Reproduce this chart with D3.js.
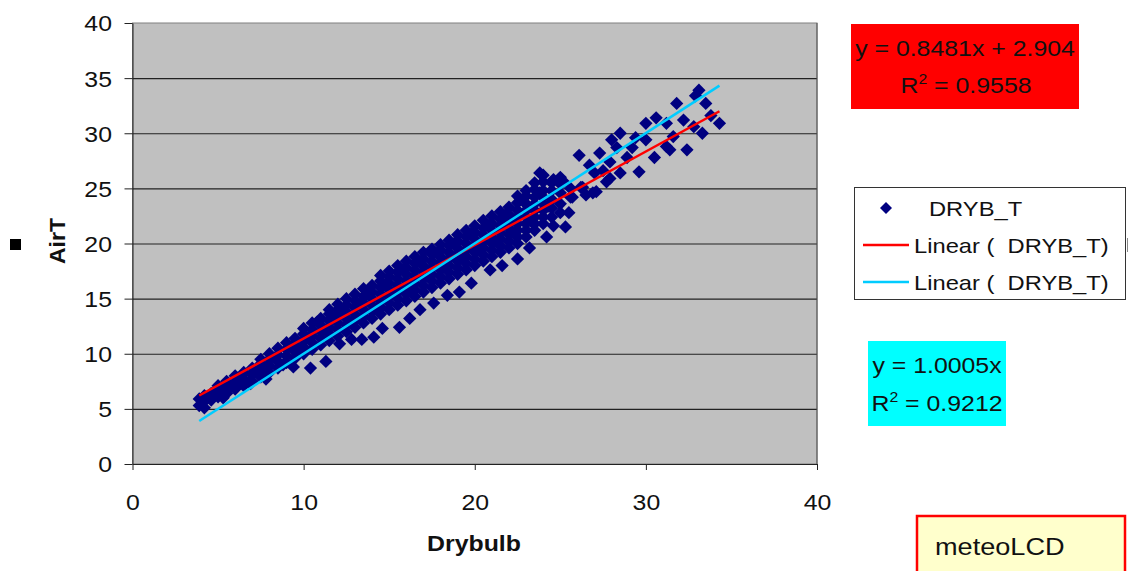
<!DOCTYPE html>
<html>
<head>
<meta charset="utf-8">
<script src="https://cdn.jsdelivr.net/npm/d3@7"></script>
<style>
  body { margin: 0; background: #fff; }
  text { font-family: "Liberation Sans", Arial, sans-serif; fill: #111; white-space: pre; }
</style>
</head>
<body>
<svg id="chart" width="1129" height="571"></svg>
<script>
/* values: [Drybulb, AirT] */
var drybT = [
  [3.9,5.3],[3.9,5.9],[4.2,5.1],[4.2,5.7],[4.2,6.2],[4.6,5.8],[4.6,6.4],
  [5.0,6.1],[5.0,6.7],[5.0,7.1],[5.5,6.4],[5.5,7.0],[5.5,7.5],
  [6.0,6.8],[6.0,7.4],[6.0,8.0],[6.5,7.1],[6.5,7.7],[6.5,8.3],
  [7.0,7.5],[7.0,8.1],[7.0,8.7],[7.5,7.9],[7.5,8.5],[7.5,9.1],[7.5,9.5],
  [8.0,8.3],[8.0,8.9],[8.0,9.5],[8.0,10.0],[8.5,8.7],[8.5,9.3],[8.5,9.9],[8.5,10.5],
  [9.0,9.2],[9.0,9.8],[9.0,10.4],[9.0,11.0],[9.5,9.6],[9.5,10.2],[9.5,10.8],[9.5,11.4],
  [10.0,10.0],[10.0,10.6],[10.0,11.2],[10.0,11.8],[10.0,12.3],
  [10.5,10.4],[10.5,11.0],[10.5,11.6],[10.5,12.2],[10.5,12.8],
  [11.0,10.8],[11.0,11.4],[11.0,12.0],[11.0,12.6],[11.0,13.2],
  [11.5,11.2],[11.5,11.8],[11.5,12.4],[11.5,13.0],[11.5,13.6],[11.5,14.0],
  [12.0,11.6],[12.0,12.2],[12.0,12.8],[12.0,13.4],[12.0,14.0],[12.0,14.5],
  [12.5,12.0],[12.5,12.6],[12.5,13.2],[12.5,13.8],[12.5,14.4],[12.5,15.0],
  [13.0,12.4],[13.0,13.0],[13.0,13.6],[13.0,14.2],[13.0,14.8],[13.0,15.4],
  [13.5,12.8],[13.5,13.4],[13.5,14.0],[13.5,14.6],[13.5,15.2],[13.5,15.9],
  [14.0,13.2],[14.0,13.8],[14.0,14.4],[14.0,15.0],[14.0,15.6],[14.0,16.2],
  [14.5,13.6],[14.5,14.2],[14.5,14.8],[14.5,15.4],[14.5,16.0],[14.5,16.6],[14.5,17.1],
  [15.0,14.0],[15.0,14.6],[15.0,15.2],[15.0,15.8],[15.0,16.4],[15.0,17.0],[15.0,17.5],
  [15.5,14.4],[15.5,15.0],[15.5,15.6],[15.5,16.2],[15.5,16.8],[15.5,17.4],[15.5,18.0],
  [16.0,14.8],[16.0,15.4],[16.0,16.0],[16.0,16.6],[16.0,17.2],[16.0,17.8],[16.0,18.4],
  [16.5,15.2],[16.5,15.8],[16.5,16.4],[16.5,17.0],[16.5,17.6],[16.5,18.2],[16.5,18.8],
  [17.0,15.6],[17.0,16.2],[17.0,16.8],[17.0,17.4],[17.0,18.0],[17.0,18.6],[17.0,19.2],
  [17.5,16.0],[17.5,16.6],[17.5,17.2],[17.5,17.8],[17.5,18.4],[17.5,19.0],[17.5,19.5],
  [18.0,16.4],[18.0,17.0],[18.0,17.6],[18.0,18.2],[18.0,18.8],[18.0,19.4],[18.0,19.9],
  [18.5,16.8],[18.5,17.4],[18.5,18.0],[18.5,18.6],[18.5,19.2],[18.5,19.8],[18.5,20.3],
  [19.0,17.2],[19.0,17.8],[19.0,18.4],[19.0,19.0],[19.0,19.6],[19.0,20.2],[19.0,20.8],
  [19.5,17.6],[19.5,18.2],[19.5,18.8],[19.5,19.4],[19.5,20.0],[19.5,20.6],[19.5,21.2],
  [20.0,18.0],[20.0,18.6],[20.0,19.2],[20.0,19.8],[20.0,20.4],[20.0,21.0],[20.0,21.6],
  [20.5,18.4],[20.5,19.0],[20.5,19.6],[20.5,20.2],[20.5,20.8],[20.5,21.4],[20.5,22.1],
  [21.0,18.8],[21.0,19.4],[21.0,20.0],[21.0,20.6],[21.0,21.2],[21.0,21.8],[21.0,22.5],
  [21.5,19.2],[21.5,19.8],[21.5,20.4],[21.5,21.0],[21.5,21.6],[21.5,22.2],[21.5,22.9],
  [22.0,19.6],[22.0,20.2],[22.0,20.8],[22.0,21.4],[22.0,22.0],[22.0,22.6],[22.0,23.3],
  [22.5,20.0],[22.5,20.6],[22.5,21.2],[22.5,21.8],[22.5,22.4],[22.5,23.0],[22.5,23.7],[22.5,24.3],
  [23.0,20.6],[23.0,21.2],[23.0,21.8],[23.0,22.4],[23.0,23.0],[23.0,23.6],[23.0,24.3],[23.0,24.8],
  [23.5,21.2],[23.5,21.8],[23.5,22.4],[23.5,23.0],[23.5,23.6],[23.5,24.2],[23.5,24.9],[23.5,25.5],
  [24.0,21.8],[24.0,22.4],[24.0,23.0],[24.0,23.6],[24.0,24.2],[24.0,24.8],[24.0,25.6],[24.0,26.2],
  [24.5,22.4],[24.5,23.2],[24.5,24.0],[24.5,24.8],[24.5,25.5],
  [25.0,22.8],[25.0,23.6],[25.0,24.6],[25.0,25.4],[25.0,26.0],
  [25.6,24.2],[25.6,25.0],[26.2,25.1],
  // between the columns
  [4.4,6.0],[5.2,6.4],[5.8,7.1],[6.3,7.9],[6.8,7.4],[7.3,8.3],[7.8,8.7],[8.3,9.6],
  [8.8,9.0],[9.3,10.6],[9.8,10.4],[10.3,11.5],[10.8,12.9],[11.3,12.1],[11.8,13.2],
  [12.3,13.9],[12.8,12.9],[13.3,14.5],[13.8,15.4],[14.3,14.1],[14.8,16.3],[15.3,15.5],
  [15.8,17.6],[16.3,16.0],[16.8,18.3],[17.3,17.0],[17.8,19.1],[18.3,17.9],[18.8,20.0],
  [19.3,18.6],[19.8,20.9],[20.3,19.4],[20.8,21.6],[21.3,20.1],[21.8,22.6],[22.3,20.9],
  [22.8,23.9],[23.3,22.0],[23.8,24.6],[24.3,23.4],
  // scattered below the band
  [5.3,6.0],[6.9,7.3],[7.8,7.7],[9.4,8.8],[10.4,8.7],[11.3,9.3],[12.1,10.9],[12.8,11.3],
  [13.4,11.3],[14.1,11.5],[14.6,12.3],[15.6,12.4],[16.2,13.2],[16.8,14.0],[17.6,14.6],
  [18.4,15.3],[19.1,15.6],[19.8,16.4],[20.9,17.6],[21.6,18.0],[22.5,18.6],[23.2,19.6],
  [24.2,20.6],[24.6,21.6],[25.3,21.5],[25.5,22.8],
  // upper end
  [23.8,26.4],[24.6,25.8],[25.2,25.6],[25.7,24.2],[26.1,28.0],[26.3,25.1],[26.5,24.4],
  [26.7,27.1],[26.9,24.6],[27.0,26.4],[27.1,24.7],[27.3,28.2],[27.5,26.6],[27.7,25.6],
  [27.9,27.4],[27.9,25.9],[28.0,29.4],[28.3,28.7],[28.5,30.0],[28.5,26.4],[28.9,27.8],
  [29.2,28.7],[29.4,29.6],[29.6,26.5],[30.0,29.4],[30.0,30.9],[30.5,27.8],[30.6,31.4],
  [31.2,30.9],[31.2,28.8],[31.4,28.5],[31.6,29.7],[31.8,32.7],[32.2,31.2],[32.4,28.5],
  [32.8,30.6],[32.9,33.4],[33.1,33.9],[33.3,30.0],[33.5,32.7],[33.8,31.6],[34.3,30.9]
];

var xTicks = [0, 10, 20, 30, 40];
var yTicks = [0, 5, 10, 15, 20, 25, 30, 35, 40];
var fitRed = {slope: 0.8481, icpt: 2.904, r2: "0.9558", text: "y = 0.8481x + 2.904"};
var fitCyan = {slope: 1.0005, icpt: 0, r2: "0.9212", text: "y = 1.0005x"};
var seriesName = "DRYB_T";

var SX = 1.13; // the picture is a bit wider than tall
var svg = d3.select("#chart");

var pL = 132.5, pR = 817, pT = 23, pB = 464;
var x = d3.scaleLinear().domain([0, 40]).range([pL, pR]);
var y = d3.scaleLinear().domain([0, 40]).range([pB, pT]);

function label(g, px, py, str, size, anchor, weight){
	return g.append("text")
		.attr("transform", "translate(" + px + "," + py + ") scale(" + SX + ",1)")
		.attr("text-anchor", anchor || "start")
		.style("font-size", size + "px")
		.style("font-weight", weight || "normal")
		.text(str);
}
function r2label(g, px, py, val){
	var t = label(g, px, py, "R", 22, "middle");
	t.append("tspan").attr("dy", -9).style("font-size", "14px").text("2");
	t.append("tspan").attr("dy", 9).text(" = " + val);
	return t;
}

/* plot area */
svg.append("rect")
	.attr("x", pL).attr("y", pT)
	.attr("width", pR - pL).attr("height", pB - pT)
	.attr("fill", "#c0c0c0")
	.attr("stroke", "#808080");

svg.append("g")
	.attr("transform", "translate(" + pL + ",0)")
	.call(d3.axisLeft(y).tickValues(yTicks.slice(1, -1)).tickSize(-(pR - pL)).tickFormat(""))
	.call(function(g){ g.select(".domain").remove(); })
	.selectAll("line").attr("stroke", "#111").attr("stroke-width", 1.2);

/* axes */
var yAxis = svg.append("g")
	.attr("transform", "translate(" + pL + ",0)")
	.call(d3.axisLeft(y).tickValues(yTicks).tickSize(8).tickSizeOuter(0));
yAxis.selectAll("text")
	.attr("x", null).attr("dy", "0.36em")
	.attr("transform", "translate(-20.5,0) scale(" + SX + ",1)")
	.style("font-size", "22px").style("font-family", "'Liberation Sans', Arial").attr("fill", "#111");

var xAxis = svg.append("g")
	.attr("transform", "translate(0," + pB + ")")
	.call(d3.axisBottom(x).tickValues(xTicks).tickSize(6).tickSizeOuter(0));
xAxis.selectAll("text")
	.attr("y", null).attr("dy", null)
	.attr("transform", "translate(0,46) scale(" + SX + ",1)")
	.style("font-size", "22px").style("font-family", "'Liberation Sans', Arial").attr("fill", "#111");
svg.selectAll(".domain, .tick line").attr("stroke", "#222");
svg.append("line").attr("x1", pR).attr("x2", pR).attr("y1", pT).attr("y2", pB).attr("stroke", "#555");

/* points */
var diamond = d3.symbol().type(d3.symbolSquare).size(88);
svg.append("g").selectAll("path")
	.data(drybT)
	.enter().append("path")
	.attr("d", diamond)
	.attr("transform", function(d){ return "translate(" + x(d[0]) + "," + y(d[1]) + ") rotate(45)"; })
	.attr("fill", "#000080");

/* trend lines over the range of the data */
var xr = d3.extent(drybT, function(d){ return d[0]; });
[[fitRed, "#ff0000"], [fitCyan, "#00ccff"]].forEach(function(f){
	svg.append("line")
		.attr("x1", x(xr[0])).attr("y1", y(f[0].slope * xr[0] + f[0].icpt))
		.attr("x2", x(xr[1])).attr("y2", y(f[0].slope * xr[1] + f[0].icpt))
		.attr("stroke", f[1]).attr("stroke-width", 2.5);
});

/* axis titles */
label(svg, 474, 551, "Drybulb", 22, "middle", "bold");
svg.append("text")
	.attr("transform", "translate(65,241) rotate(-90) scale(1.05,1)")
	.attr("text-anchor", "middle")
	.style("font-size", "22px").style("font-weight", "bold")
	.text("AirT");
svg.append("rect").attr("x", 10).attr("y", 239).attr("width", 11).attr("height", 11).attr("fill", "#000");

/* equation boxes */
svg.append("rect").attr("x", 851).attr("y", 24).attr("width", 228).attr("height", 85).attr("fill", "#ff0000");
label(svg, 965, 56, fitRed.text, 22, "middle");
r2label(svg, 966, 93, fitRed.r2);

svg.append("rect").attr("x", 868).attr("y", 341).attr("width", 138).attr("height", 85).attr("fill", "#00ffff");
label(svg, 937, 373, fitCyan.text, 22, "middle");
r2label(svg, 937, 411, fitCyan.r2);

/* legend */
var lg = svg.append("g");
lg.append("rect").attr("x", 854.5).attr("y", 187.5).attr("width", 271).attr("height", 112)
	.attr("fill", "#fff").attr("stroke", "#333");
lg.append("path").attr("d", d3.symbol().type(d3.symbolSquare).size(72))
	.attr("transform", "translate(886,208) rotate(45)").attr("fill", "#000080");
label(lg, 929, 216, seriesName, 21);
[["#ff0000", 245], ["#00ccff", 282]].forEach(function(r){
	lg.append("line").attr("x1", 863).attr("x2", 909).attr("y1", r[1]).attr("y2", r[1])
		.attr("stroke", r[0]).attr("stroke-width", 2.5);
	label(lg, 914, r[1] + 8, "Linear (  " + seriesName + ")", 21);
});
svg.append("line").attr("x1", 1127.5).attr("x2", 1127.5).attr("y1", 238).attr("y2", 252).attr("stroke", "#888");

/* meteoLCD tag */
svg.append("rect").attr("x", 917).attr("y", 516).attr("width", 208).attr("height", 70)
	.attr("fill", "#ffffcc").attr("stroke", "#ff0000").attr("stroke-width", 2.5);
label(svg, 935, 555, "meteoLCD", 24);
</script>
</body>
</html>
